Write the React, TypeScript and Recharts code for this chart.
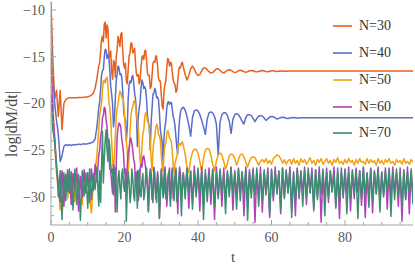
import React from 'react';
import { LineChart, Line, XAxis, YAxis } from 'recharts';

const times = [
  0, 0.5, 1, 1.5, 2, 2.5, 3, 3.5, 4, 4.5,
  5, 5.5, 6, 6.5, 7, 7.5, 8, 8.5, 9, 9.5,
  10, 10.5, 11, 11.5, 12, 12.5, 13, 13.5, 14, 14.5,
  15, 15.5, 16, 16.5, 17, 17.5, 18, 18.5, 19, 19.5,
  20, 20.5, 21, 21.5, 22, 22.5, 23, 23.5, 24, 24.5,
  25, 25.5, 26, 26.5, 27, 27.5, 28, 28.5, 29, 29.5,
  30, 30.5, 31, 31.5, 32, 32.5, 33, 33.5, 34, 34.5,
  35, 35.5, 36, 36.5, 37, 37.5, 38, 38.5, 39, 39.5,
  40, 40.5, 41, 41.5, 42, 42.5, 43, 43.5, 44, 44.5,
  45, 45.5, 46, 46.5, 47, 47.5, 48, 48.5, 49, 49.5,
  50, 50.5, 51, 51.5, 52, 52.5, 53, 53.5, 54, 54.5,
  55, 55.5, 56, 56.5, 57, 57.5, 58, 58.5, 59, 59.5,
  60, 60.5, 61, 61.5, 62, 62.5, 63, 63.5, 64, 64.5,
  65, 65.5, 66, 66.5, 67, 67.5, 68, 68.5, 69, 69.5,
  70, 70.5, 71, 71.5, 72, 72.5, 73, 73.5, 74, 74.5,
  75, 75.5, 76, 76.5, 77, 77.5, 78, 78.5, 79, 79.5,
  80, 80.5, 81, 81.5, 82, 82.5, 83, 83.5, 84, 84.5,
  85, 85.5, 86, 86.5, 87, 87.5, 88, 88.5, 89, 89.5,
  90, 90.5, 91, 91.5, 92, 92.5, 93, 93.5, 94, 94.5,
  95, 95.5, 96, 96.5, 97, 97.5, 98, 98.5,
];

// extra samples in the strongly oscillating window
const timesFine = [
  13.25, 13.75, 14.25, 14.75, 15.25, 15.75, 16.25, 16.75, 17.25, 17.75,
  18.25, 18.75, 19.25, 19.75, 20.25, 20.75, 21.25, 21.75, 22.25, 22.75,
  23.25, 23.75, 24.25, 24.75, 25.25, 25.75, 26.25, 26.75, 27.25, 27.75,
  28.25, 28.75, 29.25, 29.75, 30.25, 30.75, 31.25, 31.75, 32.25, 32.75,
  33.25, 33.75, 34.25, 34.75, 35.25, 35.75,
];

const n30 = [
  -9.2, -15.5, -19.5, -18.6, -21.4, -18.6, -22.8, -20.0, -19.6, -19.45,
  -19.4, -19.4, -19.4, -19.38, -19.38, -19.36, -19.35, -19.35, -19.33, -19.3,
  -19.28, -19.22, -19.1, -18.9, -18.4, -17.3, -16.0, -14.5, -12.8, -11.5,
  -13.0, -12.0, -15.0, -16.6, -15.4, -17.2, -14.2, -13.3, -12.6, -14.2,
  -16.2, -17.6, -16.4, -14.6, -13.6, -14.4, -15.7, -17.1, -17.9, -16.1,
  -14.9, -14.4, -15.4, -17.0, -18.4, -17.0, -15.5, -14.9, -16.0, -17.6,
  -19.0, -20.6, -18.0, -16.2, -15.3, -15.6, -16.6, -17.8, -18.8, -17.6,
  -16.1, -15.7, -16.1, -16.9, -17.5, -17.0, -16.3, -16.0, -16.3, -16.8,
  -17.0, -16.9, -16.5, -16.2, -16.2, -16.4, -16.6, -16.75, -16.7, -16.5,
  -16.3, -16.3, -16.45, -16.65, -16.75, -16.6, -16.45, -16.4, -16.45, -16.6,
  -16.7, -16.65, -16.5, -16.45, -16.5, -16.6, -16.68, -16.6, -16.5, -16.48,
  -16.5, -16.58, -16.62, -16.58, -16.5, -16.48, -16.52, -16.58, -16.6, -16.55,
  -16.5, -16.5, -16.55, -16.58, -16.55, -16.52, -16.52, -16.55, -16.56, -16.54,
  -16.53, -16.54, -16.53, -16.52, -16.53, -16.54, -16.53, -16.52, -16.53, -16.53,
  -16.54, -16.53, -16.52, -16.53, -16.54, -16.53, -16.53, -16.52, -16.53, -16.54,
  -16.53, -16.52, -16.53, -16.54, -16.53, -16.53, -16.52, -16.53, -16.54, -16.53,
  -16.53, -16.54, -16.53, -16.52, -16.53, -16.53, -16.54, -16.53, -16.52, -16.53,
  -16.54, -16.53, -16.53, -16.52, -16.53, -16.54, -16.53, -16.53, -16.52, -16.53,
  -16.53, -16.54, -16.53, -16.52, -16.53, -16.53, -16.54, -16.53, -16.53, -16.52,
  -16.53, -16.54, -16.53, -16.53, -16.52, -16.53, -16.54, -16.53,
];
const n30Fine = [
  -15.6, -13.2, -13.4, -11.3, -11.6, -14.6, -14.4, -17.4, -15.6, -15.0,
  -12.8, -13.9, -12.4, -15.8, -15.7, -17.9, -14.9, -13.5, -14.6, -14.1,
  -16.9, -16.9, -17.5, -15.0, -15.3, -14.3, -16.8, -17.0, -18.2, -15.7,
  -15.6, -15.0, -17.3, -17.6, -20.3, -18.7, -17.6, -15.2, -16.0, -15.7,
  -17.5, -18.0, -18.6, -16.4, -16.2, -15.6,
];

const n40 = [
  -11.5, -17.0, -20.0, -21.8, -23.3, -26.2, -25.6, -24.6, -24.4, -24.5,
  -24.4, -24.5, -24.4, -24.45, -24.4, -24.35, -24.4, -24.35, -24.3, -24.35,
  -24.3, -24.25, -24.2, -24.1, -23.8, -22.5, -20.5, -18.5, -16.5, -15.0,
  -14.3, -14.8, -16.5, -19.0, -22.5, -19.5, -16.8, -16.2, -16.8, -18.6,
  -21.5, -24.0, -19.5, -17.6, -17.2, -17.8, -19.5, -24.6, -20.5, -18.3,
  -17.8, -18.2, -19.6, -22.0, -25.0, -20.5, -18.9, -18.7, -19.3, -21.0,
  -23.5, -26.3, -22.5, -20.5, -19.8, -19.9, -20.6, -21.8, -23.6, -25.4,
  -21.6, -20.6, -20.4, -20.7, -21.4, -22.3, -23.5, -21.5, -20.8, -20.7,
  -20.8, -21.2, -21.8, -22.5, -23.3, -21.7, -21.0, -20.9, -21.0, -21.4,
  -22.2, -25.5, -22.0, -21.2, -21.0, -21.0, -21.3, -21.9, -23.2, -21.7,
  -21.2, -21.1, -21.2, -21.5, -21.9, -22.2, -21.5, -21.2, -21.2, -21.3,
  -21.6, -21.95, -21.6, -21.35, -21.3, -21.35, -21.55, -21.8, -21.65, -21.45,
  -21.4, -21.42, -21.55, -21.68, -21.6, -21.5, -21.47, -21.5, -21.58, -21.6,
  -21.55, -21.52, -21.5, -21.52, -21.55, -21.55, -21.53, -21.52, -21.53, -21.54,
  -21.53, -21.52, -21.53, -21.54, -21.53, -21.53, -21.52, -21.53, -21.54, -21.53,
  -21.53, -21.54, -21.53, -21.52, -21.53, -21.53, -21.54, -21.53, -21.52, -21.53,
  -21.54, -21.53, -21.53, -21.52, -21.53, -21.54, -21.53, -21.53, -21.52, -21.53,
  -21.53, -21.54, -21.53, -21.52, -21.53, -21.53, -21.54, -21.53, -21.53, -21.52,
  -21.53, -21.54, -21.53, -21.53, -21.52, -21.53, -21.54, -21.53, -21.53, -21.53,
  -21.53, -21.54, -21.53, -21.53, -21.52, -21.53, -21.54, -21.53,
];
const n40Fine = [
  -19.8, -17.0, -16.4, -14.2, -15.2, -15.0, -18.2, -20.0, -21.6, -17.6,
  -16.0, -16.9, -17.2, -20.6, -21.8, -22.6, -18.0, -17.8, -17.0, -18.9,
  -21.0, -21.4, -19.8, -17.5, -18.4, -18.5, -21.3, -22.6, -22.0, -19.0,
  -18.4, -19.4, -19.6, -22.8, -24.2, -23.6, -21.9, -19.9, -20.1, -19.9,
  -21.4, -22.4, -24.8, -23.0, -20.9, -20.5,
];

const n50 = [
  -12.5, -19.5, -24.5, -27.5, -28.8, -31.4, -28.0, -29.5, -27.6, -30.2,
  -28.4, -29.8, -27.5, -30.5, -28.2, -29.0, -27.8, -30.8, -28.6, -29.4,
  -28.2, -30.0, -31.7, -28.5, -27.4, -25.5, -22.8, -20.6, -18.6, -17.5,
  -17.3, -18.2, -20.5, -24.0, -27.0, -23.5, -20.5, -19.2, -18.8, -19.3,
  -21.0, -24.0, -27.2, -23.0, -20.6, -19.8, -20.2, -21.8, -24.5, -26.8,
  -23.2, -21.5, -21.2, -22.0, -24.0, -27.2, -24.0, -22.6, -22.5, -23.5,
  -25.5, -27.3, -24.5, -23.3, -23.2, -23.8, -25.2, -27.4, -26.0, -24.8,
  -24.3, -24.2, -24.5, -25.4, -26.8, -27.4, -26.0, -25.2, -24.9, -24.9,
  -25.3, -26.2, -27.3, -25.8, -25.0, -24.8, -24.9, -25.5, -26.5, -27.2,
  -26.2, -25.5, -25.3, -25.5, -26.2, -27.0, -26.4, -25.6, -25.4, -25.5,
  -25.9, -26.6, -26.0, -25.5, -25.4, -25.7, -26.3, -26.8, -26.2, -25.8,
  -25.7, -25.8, -26.2, -26.6, -26.2, -26.0, -26.3, -25.9, -26.4, -26.1,
  -26.5, -25.9, -25.7, -25.5, -25.6, -25.9, -26.4, -26.0, -26.5, -26.1,
  -26.0, -26.5, -25.9, -26.4, -26.1, -26.6, -25.9, -26.3, -26.0, -26.5,
  -26.2, -25.8, -26.4, -26.1, -26.6, -26.0, -26.3, -25.9, -26.5, -26.2,
  -25.9, -26.4, -26.1, -26.6, -26.0, -26.3, -25.8, -26.4, -26.2, -26.5,
  -26.0, -26.4, -25.9, -26.3, -26.1, -26.6, -26.0, -26.4, -25.9, -26.3,
  -26.2, -26.5, -25.9, -26.4, -26.0, -26.3, -26.1, -26.6, -25.9, -26.4,
  -26.1, -26.5, -26.0, -26.3, -25.9, -26.4, -26.2, -26.6, -26.0, -26.3,
  -26.1, -26.5, -25.9, -26.4, -26.2, -26.5, -26.0, -26.3,
];
const n50Fine = [
  -21.2, -20.0, -17.6, -17.8, -17.2, -19.8, -21.5, -26.0, -25.8, -21.5,
  -20.1, -18.7, -19.4, -19.8, -22.8, -25.0, -25.6, -21.4, -20.4, -19.7,
  -21.3, -22.6, -26.2, -24.6, -22.8, -21.0, -21.9, -22.6, -26.0, -25.0,
  -23.6, -22.2, -23.3, -23.9, -26.8, -25.4, -24.2, -22.9, -23.7, -24.1,
  -26.6, -26.4, -25.7, -24.3, -24.5, -24.1,
];

const n60 = [
  -14.5, -21.0, -23.5, -26.8, -28.5, -30.5, -27.2, -31.0, -27.6, -29.4,
  -27.0, -30.8, -27.5, -29.2, -26.9, -31.5, -27.8, -30.0, -27.1, -29.6,
  -27.4, -30.6, -27.0, -29.3, -26.5, -28.4, -25.5, -23.5, -21.5, -20.4,
  -21.8, -24.0, -27.0, -28.5, -26.5, -31.6, -23.5, -22.1, -22.6, -24.5,
  -27.5, -29.5, -25.2, -24.0, -24.3, -26.0, -28.8, -27.2, -29.6, -26.5,
  -25.8, -26.2, -27.8, -31.5, -27.0, -29.5, -26.8, -30.2, -27.3, -32.2,
  -27.0, -29.8, -26.8, -31.0, -27.5, -30.4, -26.9, -29.3, -27.2, -31.8,
  -26.8, -30.0, -27.4, -29.5, -26.9, -31.2, -27.3, -30.6, -26.7, -29.6,
  -27.2, -31.5, -26.8, -30.1, -27.5, -29.4, -26.9, -30.8, -27.1, -32.4,
  -26.8, -29.9, -27.3, -31.0, -26.9, -30.3, -27.4, -29.5, -26.8, -31.4,
  -27.2, -30.0, -26.9, -29.6, -27.3, -32.0, -26.8, -30.5, -27.1, -29.4,
  -26.9, -32.7, -27.2, -30.1, -26.8, -31.6, -27.4, -29.8, -26.9, -32.2,
  -27.2, -30.4, -26.8, -29.5, -27.3, -31.8, -26.9, -30.0, -27.1, -29.6,
  -26.8, -31.4, -27.3, -32.0, -26.9, -30.2, -27.2, -29.7, -26.8, -30.8,
  -27.4, -29.5, -26.9, -31.2, -27.1, -30.0, -26.8, -32.7, -27.3, -29.8,
  -26.9, -30.6, -27.2, -29.4, -26.8, -31.0, -27.4, -32.3, -26.9, -30.1,
  -27.1, -29.7, -26.8, -31.5, -27.3, -30.2, -26.9, -29.5, -27.2, -30.9,
  -26.8, -32.2, -27.4, -30.0, -26.9, -31.7, -27.2, -29.6, -26.8, -30.4,
  -27.3, -29.8, -26.9, -31.3, -27.1, -30.1, -26.8, -29.5, -27.4, -31.0,
  -26.9, -32.6, -27.2, -30.3, -26.8, -31.8, -27.3, -29.9,
];
const n60Fine = [
  -25.0, -23.0, -21.3, -20.6, -22.5, -25.0, -27.2, -29.6, -27.0, -26.5,
  -22.6, -22.2, -23.8, -25.4, -27.0, -26.6, -24.8, -23.7, -25.0, -26.4,
  -27.6, -30.4, -27.0, -26.8, -25.6, -26.9, -29.0, -28.2, -27.4, -30.6,
  -27.5, -29.0, -28.4, -30.0, -28.6, -27.6, -28.2, -29.4, -26.9, -28.8,
  -30.2, -27.8, -29.0, -28.4, -27.6, -29.2,
];

const n70 = [
  -19.0, -22.8, -24.0, -26.5, -30.0, -27.2, -32.4, -27.4, -30.4, -27.1,
  -29.6, -27.3, -31.4, -27.0, -30.8, -27.6, -32.5, -27.2, -29.9, -27.4,
  -31.2, -27.0, -30.3, -27.5, -29.2, -26.8, -31.0, -30.6, -23.0, -25.8,
  -22.8, -26.2, -24.6, -27.4, -29.8, -26.9, -31.6, -27.2, -30.2, -27.0,
  -29.4, -32.6, -27.3, -30.6, -27.0, -29.8, -27.4, -31.2, -27.1, -30.0,
  -27.5, -29.6, -26.9, -31.6, -27.3, -30.3, -27.0, -29.7, -27.6, -32.3,
  -27.2, -30.1, -27.0, -29.5, -27.4, -31.0, -27.1, -30.4, -26.9, -29.9,
  -27.3, -32.0, -27.5, -30.2, -27.0, -29.6, -27.2, -31.3, -27.4, -30.0,
  -26.9, -29.7, -27.3, -32.4, -27.1, -30.5, -27.5, -29.8, -27.0, -31.1,
  -27.3, -30.2, -27.0, -29.5, -27.6, -31.8, -27.2, -30.0, -26.9, -29.7,
  -27.4, -31.3, -27.1, -30.4, -27.3, -29.6, -27.0, -32.5, -27.4, -30.1,
  -27.2, -29.8, -26.9, -31.0, -27.5, -30.3, -27.1, -29.6, -27.3, -31.9,
  -27.0, -30.0, -27.4, -29.7, -27.2, -31.4, -26.9, -30.2, -27.3, -29.5,
  -27.1, -32.2, -27.5, -30.4, -27.0, -29.8, -27.3, -31.0, -27.2, -30.1,
  -26.9, -29.6, -27.4, -31.5, -27.1, -30.3, -27.3, -29.7, -27.0, -32.0,
  -27.4, -30.0, -27.2, -29.5, -27.5, -31.2, -26.9, -30.4, -27.3, -29.9,
  -27.0, -31.8, -27.4, -30.1, -27.1, -29.6, -27.3, -32.3, -27.2, -30.2,
  -26.9, -29.8, -27.5, -31.1, -27.0, -30.4, -27.3, -29.7, -27.1, -31.6,
  -27.4, -30.0, -27.2, -29.5, -26.9, -32.1, -27.3, -30.3, -27.0, -29.8,
  -27.5, -31.0, -27.1, -30.2, -27.3, -29.6, -27.0, -30.8,
];
const n70Fine = [
  -27.2, -26.8, -28.5, -24.0, -25.0, -23.8, -26.6, -27.0, -27.3, -29.0,
  -28.0, -29.0, -27.6, -28.8, -27.1, -29.2, -28.4, -29.6, -28.0, -30.4,
  -28.6, -27.6, -29.5, -28.2, -30.3, -27.8, -28.8, -29.4, -28.0, -29.8,
  -28.4, -30.6, -28.9, -29.0, -28.5, -29.5, -30.2, -28.1, -29.2, -28.4,
  -29.0, -28.0, -30.5, -28.3, -29.6, -28.8,
];

const seriesKeys = ['n30', 'n40', 'n50', 'n60', 'n70'];
const seriesNames = ['N=30', 'N=40', 'N=50', 'N=60', 'N=70'];
const seriesColors = ['#e8601c', '#5b6ecb', '#f2a20c', '#b23fbb', '#3c8e70'];

const xTicks = [0, 5, 10, 15, 20, 25, 30, 35, 40, 45, 50, 55, 60, 65, 70, 75, 80, 85, 90, 95];
const xMajor = [0, 20, 40, 60, 80];
const yTicks = [-32, -31, -30, -29, -28, -27, -26, -25, -24, -23, -22, -21, -20, -19, -18, -17, -16, -15, -14, -13, -12, -11, -10];
const yMajor = [-30, -25, -20, -15, -10];
const xDomain = [0, 98.5];
const yDomain = [-33, -9.04];

const data = [
  ...times.map((t, i) => ({ t, n30: n30[i], n40: n40[i], n50: n50[i], n60: n60[i], n70: n70[i] })),
  ...timesFine.map((t, i) => ({
    t,
    n30: n30Fine[i],
    n40: n40Fine[i],
    n50: n50Fine[i],
    n60: n60Fine[i],
    n70: n70Fine[i],
  })),
].sort((a, b) => a.t - b.t);

const FRAME = '#a3a3a3';
const TICKTEXT = '#5a5a5a';
const SERIF = "'Liberation Serif', 'DejaVu Serif', serif";

const fmt = (v: number) => (v < 0 ? '\u2212' + Math.abs(v) : String(v));

const BottomTick = (props: any) => {
  const { x, y, payload } = props;
  const v = payload.value;
  const major = xMajor.includes(v);
  return (
    <g>
      <line x1={x} y1={y} x2={x} y2={y - (major ? 5 : 3)} stroke={FRAME} strokeWidth={1} />
      {major && (
        <text x={x} y={y + 17} textAnchor="middle" fontFamily={SERIF} fontSize={14} fill={TICKTEXT}>
          {fmt(v)}
        </text>
      )}
    </g>
  );
};

const TopTick = (props: any) => {
  const { x, y, payload } = props;
  const major = xMajor.includes(payload.value);
  return <line x1={x} y1={y} x2={x} y2={y + (major ? 5 : 3)} stroke={FRAME} strokeWidth={1} />;
};

const LeftTick = (props: any) => {
  const { x, y, payload } = props;
  const v = payload.value;
  const major = yMajor.includes(v);
  return (
    <g>
      <line x1={x} y1={y} x2={x + (major ? 5 : 3)} y2={y} stroke={FRAME} strokeWidth={1} />
      {major && (
        <text x={x - 6} y={y + 5} textAnchor="end" fontFamily={SERIF} fontSize={14} fill={TICKTEXT}>
          {fmt(v)}
        </text>
      )}
    </g>
  );
};

const RightTick = (props: any) => {
  const { x, y, payload } = props;
  const major = yMajor.includes(payload.value);
  return <line x1={x} y1={y} x2={x - (major ? 5 : 3)} y2={y} stroke={FRAME} strokeWidth={1} />;
};

const YLabel = () => (
  <text
    x={11}
    y={124}
    transform="rotate(-90 11 124)"
    textAnchor="middle"
    dominantBaseline="central"
    fontFamily={SERIF}
    fontSize={16}
    fill="#4a4a4a"
  >
    log|dM/dt|
  </text>
);

const XLabel = () => (
  <text x={233} y={262} textAnchor="middle" fontFamily={SERIF} fontSize={15} fill="#4a4a4a">
    t
  </text>
);

const LegendBox = () => (
  <div
    style={{
      position: 'absolute',
      left: 333,
      top: 13,
      fontFamily: SERIF,
      fontSize: 14,
      color: '#333',
    }}
  >
    {seriesNames.map((name, i) => (
      <div key={name} style={{ height: 26.75, display: 'flex', alignItems: 'center' }}>
        <svg width={19} height={4} style={{ display: 'block' }}>
          <line x1={0} y1={2} x2={19} y2={2} stroke={seriesColors[i]} strokeWidth={1.6} />
        </svg>
        <span style={{ marginLeft: 7, whiteSpace: 'nowrap' }}>{name}</span>
      </div>
    ))}
  </div>
);

export default function App() {
  return (
    <div style={{ position: 'absolute', left: 0, top: 0, width: 415, height: 269, background: '#fff' }}>
      <LineChart width={415} height={269} data={data} margin={{ top: 1, right: 2, bottom: 0, left: 0 }}>
        <XAxis
          dataKey="t"
          type="number"
          domain={xDomain}
          allowDataOverflow
          ticks={xTicks}
          interval={0}
          tickSize={0}
          tickMargin={0}
          tickLine={false}
          tick={BottomTick}
          height={44}
          axisLine={{ stroke: FRAME }}
          label={{ content: XLabel }}
        />
        <XAxis
          xAxisId="top"
          orientation="top"
          dataKey="t"
          type="number"
          domain={xDomain}
          allowDataOverflow
          ticks={xTicks}
          interval={0}
          tickSize={0}
          tickMargin={0}
          tickLine={false}
          tick={TopTick}
          height={0}
          axisLine={{ stroke: FRAME }}
        />
        <YAxis
          type="number"
          domain={yDomain}
          allowDataOverflow
          ticks={yTicks}
          interval={0}
          tickSize={0}
          tickMargin={0}
          tickLine={false}
          tick={LeftTick}
          width={51}
          axisLine={{ stroke: FRAME }}
          label={{ content: YLabel }}
        />
        <YAxis
          yAxisId="right"
          orientation="right"
          type="number"
          domain={yDomain}
          allowDataOverflow
          ticks={yTicks}
          interval={0}
          tickSize={0}
          tickMargin={0}
          tickLine={false}
          tick={RightTick}
          width={0}
          axisLine={{ stroke: FRAME }}
        />
        {seriesKeys.map((k, i) => (
          <Line
            key={k}
            dataKey={k}
            name={seriesNames[i]}
            type="linear"
            stroke={seriesColors[i]}
            strokeWidth={1.5}
            strokeLinejoin="round"
            dot={false}
            activeDot={false}
            isAnimationActive={false}
          />
        ))}
      </LineChart>
      <LegendBox />
    </div>
  );
}
